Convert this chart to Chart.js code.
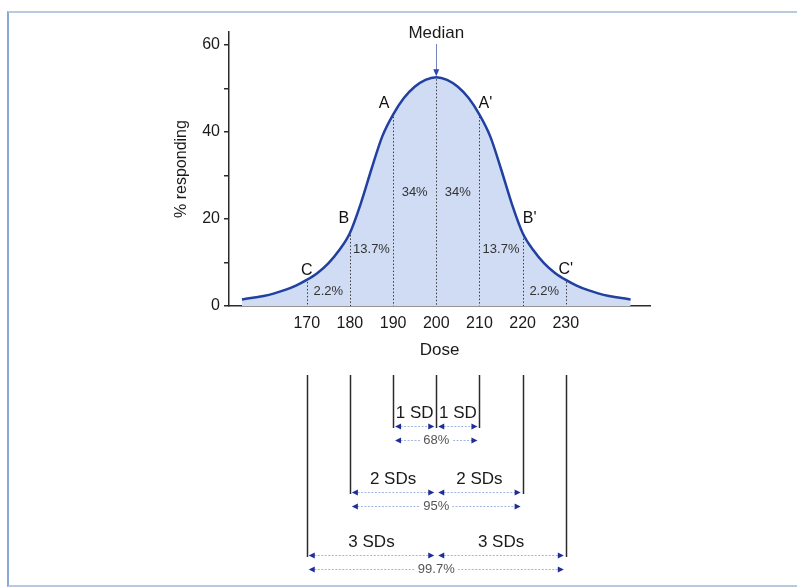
<!DOCTYPE html>
<html>
<head>
    <title>Dose response distribution</title>
    <script src="https://cdn.jsdelivr.net/npm/chart.js"></script>
    <style>
        body { margin: 0; background: #fff; font-family: 'Liberation Sans', Arial, sans-serif; }
        #frame { position: absolute; left: 7px; top: 11px; width: 800px; height: 572px;
                 border: 2px solid #b7cadf; border-left-color: #86a9d8; }
        #doseChart { position: absolute; left: 0; top: 0; }
    </style>
</head>
<body>
    <div id="frame"></div>
    <canvas id="doseChart" width="797" height="588"></canvas>

    <script>
        // curve (dose -> % responding)
        const doses = [155, 157.5, 160, 162.5, 165, 167.5, 170, 172.5, 175, 177.5,
                       180, 182.5, 185, 187.5, 190, 192.5, 195, 197.5, 200, 202.5,
                       205, 207.5, 210, 212.5, 215, 217.5, 220, 222.5, 225, 227.5,
                       230, 232.5, 235, 237.5, 240, 242.5, 245];
        const responding = [1.5, 1.9, 2.3, 2.9, 3.7, 4.7, 6.0, 7.6, 9.8, 12.8,
                            16.8, 23.5, 31.5, 39, 44, 47.8, 50.4, 52, 52.6, 52,
                            50.4, 47.8, 44, 39, 31.5, 23.5, 16.8, 12.8, 9.8, 7.6,
                            6.0, 4.7, 3.7, 2.9, 2.3, 1.9, 1.5];

        const doseTicks = [170, 180, 190, 200, 210, 220, 230];
        const yTicks = [0, 20, 40, 60];
        const median = 200;
        const sd = 10;

        const curveLabels = ['C', 'B', 'A', "A'", "B'", "C'"];
        const curveLabelDoses = [170, 180, 190, 210, 220, 230];
        const areaShares = ['34%', '13.7%', '2.2%'];
        const sdLabels = ['1 SD', '2 SDs', '3 SDs'];
        const sdCoverage = ['68%', '95%', '99.7%'];

        // placement only (pixels / axis units), not data
        const LAYOUT = {
            curveLabelOffsets: [[0, -9], [-6, -14], [-9, -11], [6, -11], [7, -14], [0, -10]],
            areaLabelHeights: [26.2, 13.1, 3.4],
            lineTop: 69,
            rows: [120, 186, 249]
        };

        const FONT = "'Liberation Sans', Arial, sans-serif";
        Chart.defaults.font.family = FONT;
        Chart.defaults.color = '#1a1a1a';

        function head(ctx, tipX, y, dir) {
            ctx.beginPath();
            ctx.moveTo(tipX, y);
            ctx.lineTo(tipX - dir * 6, y - 3);
            ctx.lineTo(tipX - dir * 6, y + 3);
            ctx.closePath();
            ctx.fill();
        }

        function arrow(ctx, x1, x2, y) {
            ctx.save();
            ctx.strokeStyle = '#a3b6e0';
            ctx.lineWidth = 1;
            ctx.setLineDash([2, 1.5]);
            ctx.beginPath();
            ctx.moveTo(x1 + 4, y + 0.5);
            ctx.lineTo(x2 - 4, y + 0.5);
            ctx.stroke();
            ctx.restore();
            ctx.fillStyle = '#1f2d96';
            head(ctx, x1 + 2, y + 0.5, -1);
            head(ctx, x2 - 2, y + 0.5, 1);
        }

        const overlay = {
            id: 'overlay',
            afterDatasetsDraw(chart) {
                const { ctx, scales: { x, y } } = chart;
                // dotted verticals from the curve to the axis
                ctx.save();
                ctx.strokeStyle = '#3a3a3a';
                ctx.lineWidth = 1;
                ctx.setLineDash([1.5, 2]);
                doseTicks.forEach(d => {
                    const v = responding[doses.indexOf(d)];
                    const px = Math.round(x.getPixelForValue(d)) + 0.5;
                    ctx.beginPath();
                    ctx.moveTo(px, y.getPixelForValue(v) + 2);
                    ctx.lineTo(px, y.getPixelForValue(0));
                    ctx.stroke();
                });
                ctx.restore();
            },
            afterDraw(chart) {
                const { ctx, scales: { x, y } } = chart;
                const axisY = y.getPixelForValue(0);
                const xm = x.getPixelForValue(median);
                ctx.save();
                ctx.textAlign = 'center';
                ctx.textBaseline = 'middle';

                // median marker
                const peakY = y.getPixelForValue(Math.max(...responding));
                ctx.fillStyle = '#1a1a1a';
                ctx.font = '17px ' + FONT;
                ctx.fillText('Median', xm, 33);
                ctx.strokeStyle = '#7384b8';
                ctx.lineWidth = 1;
                ctx.beginPath();
                ctx.moveTo(Math.round(xm) + 0.5, 44);
                ctx.lineTo(Math.round(xm) + 0.5, peakY - 6);
                ctx.stroke();
                ctx.fillStyle = '#2a44b0';
                ctx.beginPath();
                ctx.moveTo(xm, peakY - 1);
                ctx.lineTo(xm - 3, peakY - 8);
                ctx.lineTo(xm + 3, peakY - 8);
                ctx.closePath();
                ctx.fill();

                // A B C labels on the curve
                ctx.fillStyle = '#111';
                ctx.font = '16px ' + FONT;
                curveLabels.forEach((t, i) => {
                    const d = curveLabelDoses[i];
                    const v = responding[doses.indexOf(d)];
                    const [dx, dy] = LAYOUT.curveLabelOffsets[i];
                    ctx.fillText(t, x.getPixelForValue(d) + dx, y.getPixelForValue(v) + dy);
                });

                // area shares
                ctx.fillStyle = '#333';
                ctx.font = '13px ' + FONT;
                areaShares.forEach((t, i) => {
                    const off = (i + 0.5) * sd;
                    const py = y.getPixelForValue(LAYOUT.areaLabelHeights[i]);
                    ctx.fillText(t, x.getPixelForValue(median - off), py);
                    ctx.fillText(t, x.getPixelForValue(median + off), py);
                });

                // SD brackets below the axis
                const top = axisY + LAYOUT.lineTop;
                ctx.strokeStyle = '#2b2b2b';
                ctx.lineWidth = 1.5;
                ctx.beginPath();
                ctx.moveTo(Math.round(xm) + 0.5, top);
                ctx.lineTo(Math.round(xm) + 0.5, axisY + LAYOUT.rows[0] + 2);
                ctx.stroke();
                sdLabels.forEach((lab, i) => {
                    const k = i + 1;
                    const rowY = axisY + LAYOUT.rows[i];
                    const xl = x.getPixelForValue(median - k * sd);
                    const xr = x.getPixelForValue(median + k * sd);
                    ctx.strokeStyle = '#2b2b2b';
                    ctx.lineWidth = 1.5;
                    [xl, xr].forEach(px => {
                        ctx.beginPath();
                        ctx.moveTo(Math.round(px) + 0.5, top);
                        ctx.lineTo(Math.round(px) + 0.5, rowY + 2);
                        ctx.stroke();
                    });
                    ctx.fillStyle = '#1a1a1a';
                    ctx.font = '17px ' + FONT;
                    ctx.fillText(lab, x.getPixelForValue(median - k * sd / 2), rowY - 13);
                    ctx.fillText(lab, x.getPixelForValue(median + k * sd / 2), rowY - 13);
                    arrow(ctx, xl, xm, rowY);
                    arrow(ctx, xm, xr, rowY);
                    const pctY = rowY + 14;
                    arrow(ctx, xl, xr, pctY);
                    ctx.font = '13px ' + FONT;
                    const w = ctx.measureText(sdCoverage[i]).width + 6;
                    ctx.fillStyle = '#fff';
                    ctx.fillRect(xm - w / 2, pctY - 7, w, 14);
                    ctx.fillStyle = '#555';
                    ctx.fillText(sdCoverage[i], xm, pctY);
                });
                ctx.restore();
            }
        };

        const ctx = document.getElementById('doseChart').getContext('2d');
        new Chart(ctx, {
            type: 'line',
            data: {
                datasets: [{
                    label: '% responding',
                    data: doses.map((d, i) => ({ x: d, y: responding[i] })),
                    borderColor: '#2140a0',
                    borderWidth: 2.5,
                    backgroundColor: '#cfdcf3',
                    fill: 'origin',
                    pointRadius: 0,
                    cubicInterpolationMode: 'monotone'
                }]
            },
            options: {
                responsive: false,
                animation: false,
                events: [],
                layout: { padding: { left: 168, top: 32, right: 147, bottom: 223 } },
                plugins: { legend: { display: false }, tooltip: { enabled: false } },
                scales: {
                    x: {
                        type: 'linear',
                        min: 152,
                        max: 249.5,
                        afterBuildTicks: s => { s.ticks = doseTicks.map(v => ({ value: v })); },
                        afterFit: s => { s.height = 59; },
                        grid: { display: false, drawTicks: false },
                        border: { display: true, color: '#2b2b2b', width: 1.5 },
                        ticks: { padding: 8, font: { size: 16 }, color: '#1a1a1a', maxRotation: 0 },
                        title: { display: true, text: 'Dose', font: { size: 17 }, color: '#1a1a1a',
                                 padding: { top: 4, bottom: 4 } }
                    },
                    y: {
                        min: 0,
                        max: 63,
                        afterFit: s => { s.width = 61; },
                        grid: { drawOnChartArea: false, drawTicks: true, tickLength: 5,
                                color: '#2b2b2b', lineWidth: 1.5 },
                        border: { display: true, color: '#2b2b2b', width: 1.5 },
                        ticks: {
                            stepSize: 10,
                            includeBounds: false,
                            padding: 4,
                            font: { size: 16 },
                            color: '#1a1a1a',
                            callback: v => yTicks.includes(v) ? String(v) : ''
                        },
                        title: { display: true, text: '% responding', font: { size: 16 },
                                 color: '#1a1a1a', padding: { top: 4, bottom: 4 } }
                    }
                }
            },
            plugins: [overlay]
        });
    </script>
</body>
</html>
